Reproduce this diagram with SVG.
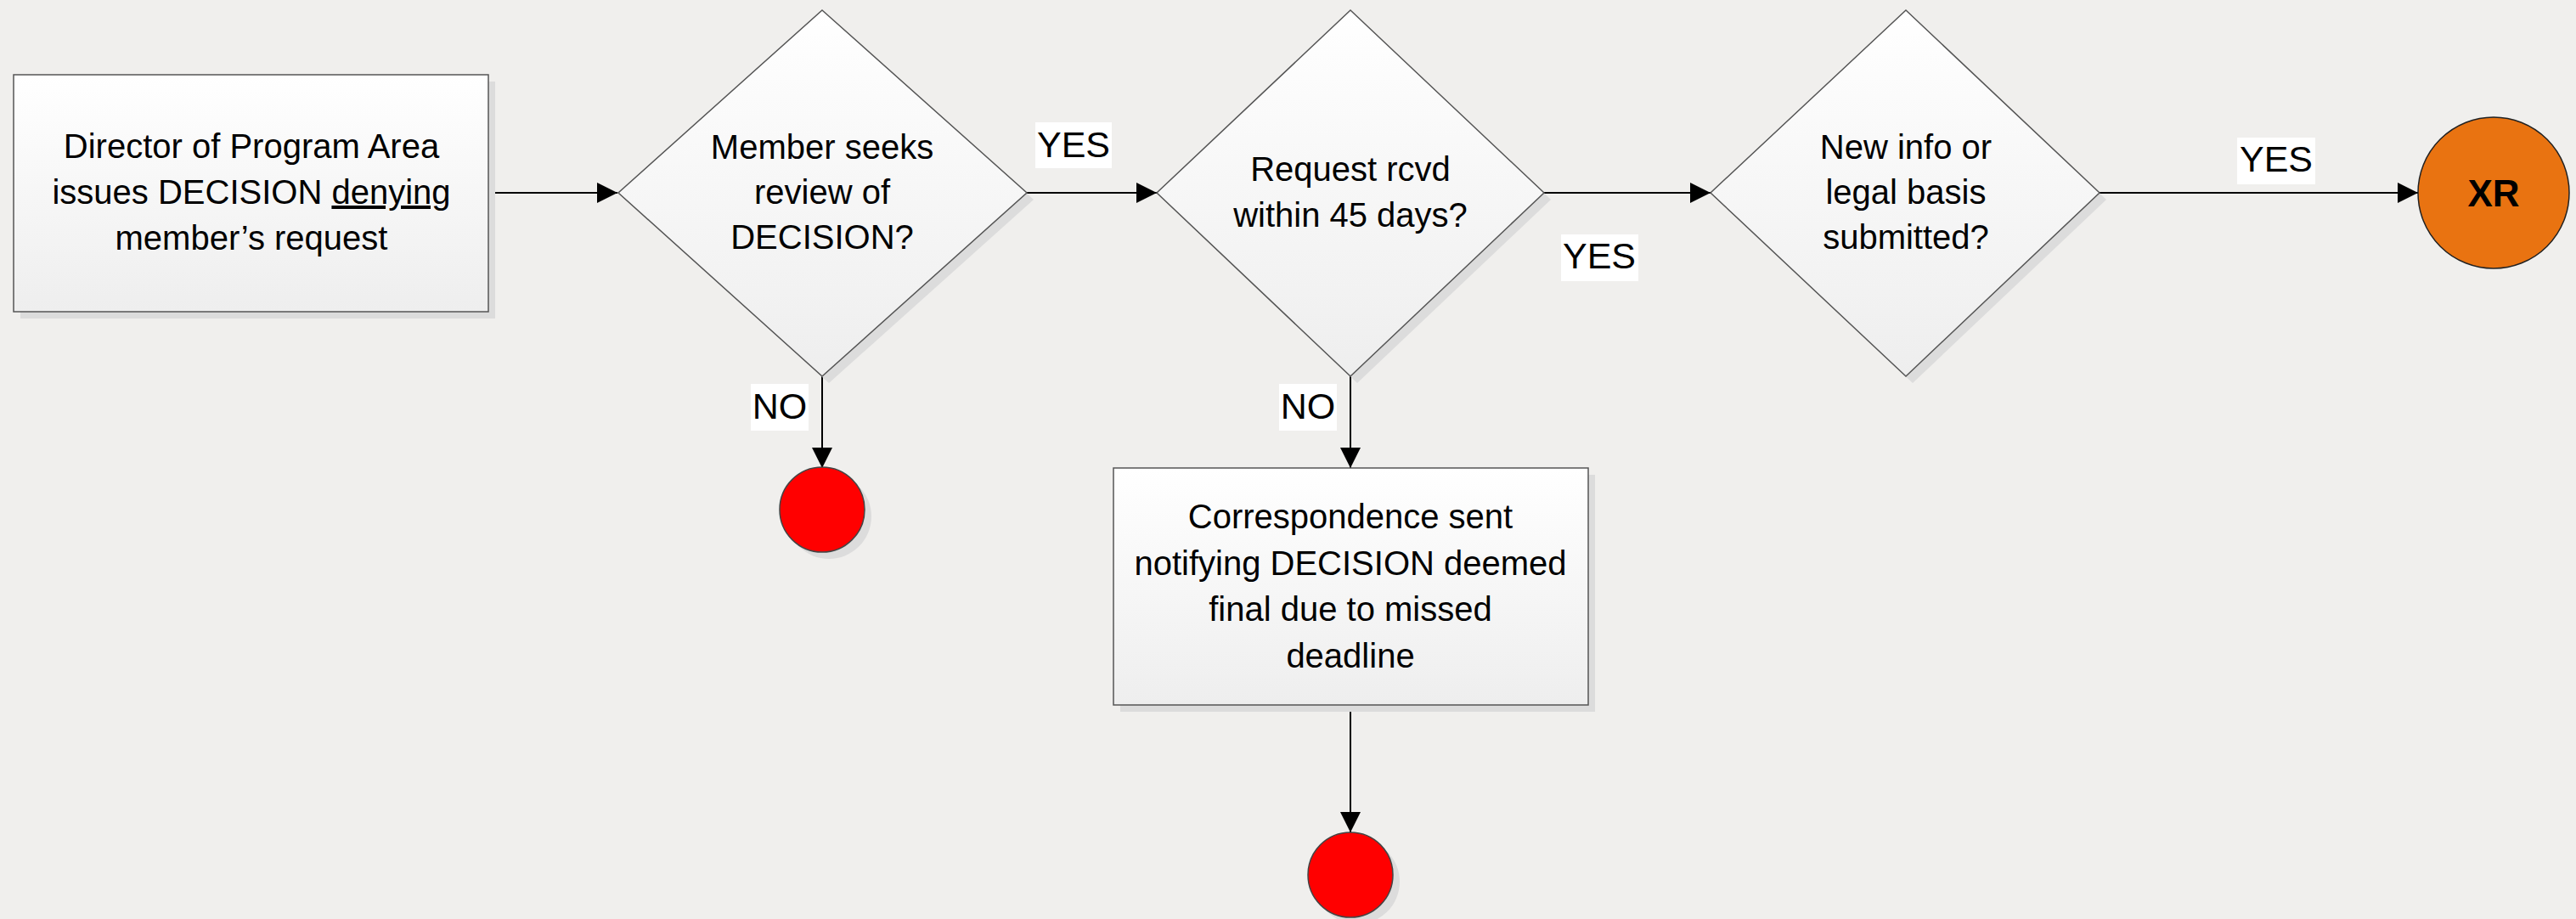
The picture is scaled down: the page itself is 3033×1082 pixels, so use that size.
<svg xmlns="http://www.w3.org/2000/svg" width="3033" height="1082" viewBox="0 0 3033 1082">
<defs>
<linearGradient id="g" x1="0" y1="0" x2="0" y2="1">
<stop offset="0" stop-color="#ffffff"/>
<stop offset="1" stop-color="#eeeeee"/>
</linearGradient>
<marker id="arr" markerUnits="userSpaceOnUse" markerWidth="24" markerHeight="24" refX="24" refY="12" orient="auto">
<path d="M0,0 L24,12 L0,24 z" fill="#000"/>
</marker>
</defs>
<style>
.shape{fill:url(#g);stroke:#555;stroke-width:1.5}
.shadow{fill:#dcdcdc}
.t{font-family:"Liberation Sans",Arial,sans-serif;font-size:40px;fill:#000;text-anchor:middle}
.lbl{font-family:"Liberation Sans",Arial,sans-serif;font-size:43px;fill:#000;text-anchor:middle}
.lblbg{fill:#ffffff}
.conn{stroke:#000;stroke-width:2;fill:none}
.end{fill:#ff0000;stroke:#444;stroke-width:1.5}
</style>
<rect width="3033" height="1082" fill="#f0efed"/>

<g id="connectors">
<line class="conn" x1="575" y1="227" x2="727" y2="227" marker-end="url(#arr)"/>
<line class="conn" x1="1209" y1="227" x2="1362" y2="227" marker-end="url(#arr)"/>
<line class="conn" x1="1818" y1="227" x2="2014" y2="227" marker-end="url(#arr)"/>
<line class="conn" x1="2472" y1="227" x2="2847" y2="227" marker-end="url(#arr)"/>
<line class="conn" x1="968" y1="443" x2="968" y2="551" marker-end="url(#arr)"/>
<line class="conn" x1="1590" y1="443" x2="1590" y2="551" marker-end="url(#arr)"/>
<line class="conn" x1="1590" y1="830" x2="1590" y2="980" marker-end="url(#arr)"/>
<rect class="lblbg" x="1219" y="144" width="90" height="54"/>
<text class="lbl" x="1264" y="185">YES</text>
<rect class="lblbg" x="1838" y="276" width="91" height="55"/>
<text class="lbl" x="1883" y="316">YES</text>
<rect class="lblbg" x="2634" y="162" width="92" height="55"/>
<text class="lbl" x="2680" y="202">YES</text>
<rect class="lblbg" x="884" y="452" width="68" height="55"/>
<text class="lbl" x="918" y="493">NO</text>
<rect class="lblbg" x="1506" y="452" width="68" height="55"/>
<text class="lbl" x="1540" y="493">NO</text>
</g>

<g id="box-director">
<rect class="shadow" x="24" y="96" width="559" height="279"/>
<rect class="shape" x="16" y="88" width="559" height="279"/>
<text class="t" x="296" y="186">Director of Program Area</text>
<text class="t" x="296" y="240">issues DECISION <tspan text-decoration="underline">denying</tspan></text>
<text class="t" x="296" y="294">member’s request</text>
</g>

<g id="dec-review">
<polygon class="shadow" points="976,20 1217,235 976,451 736,235"/>
<polygon class="shape" points="968,12 1209,227 968,443 728,227"/>
<text class="t" x="968" y="187">Member seeks</text>
<text class="t" x="968" y="240">review of</text>
<text class="t" x="968" y="293">DECISION?</text>
</g>

<g id="dec-45days">
<polygon class="shadow" points="1598,20 1826,235 1598,451 1370,235"/>
<polygon class="shape" points="1590,12 1818,227 1590,443 1362,227"/>
<text class="t" x="1590" y="213">Request rcvd</text>
<text class="t" x="1590" y="267">within 45 days?</text>
</g>

<g id="dec-newinfo">
<polygon class="shadow" points="2252,20 2480,235 2252,451 2022,235"/>
<polygon class="shape" points="2244,12 2472,227 2244,443 2014,227"/>
<text class="t" x="2244" y="187">New info or</text>
<text class="t" x="2244" y="240">legal basis</text>
<text class="t" x="2244" y="293">submitted?</text>
</g>

<g id="end-xr">
<circle cx="2936" cy="227" r="89" fill="#e97311" stroke="#222" stroke-width="1.5"/>
<text x="2936" y="243" text-anchor="middle" font-family="Liberation Sans, Arial, sans-serif" font-size="44" font-weight="bold" fill="#000">XR</text>
</g>

<g id="end-no1">
<circle class="shadow" cx="976" cy="608" r="50"/>
<circle class="end" cx="968" cy="600" r="50"/>
</g>

<g id="box-correspondence">
<rect class="shadow" x="1319" y="559" width="559" height="279"/>
<rect class="shape" x="1311" y="551" width="559" height="279"/>
<text class="t" x="1590" y="622">Correspondence sent</text>
<text class="t" x="1590" y="677">notifying DECISION deemed</text>
<text class="t" x="1590" y="731">final due to missed</text>
<text class="t" x="1590" y="786">deadline</text>
</g>

<g id="end-no2">
<circle class="shadow" cx="1598" cy="1038" r="50"/>
<circle class="end" cx="1590" cy="1030" r="50"/>
</g>
</svg>
